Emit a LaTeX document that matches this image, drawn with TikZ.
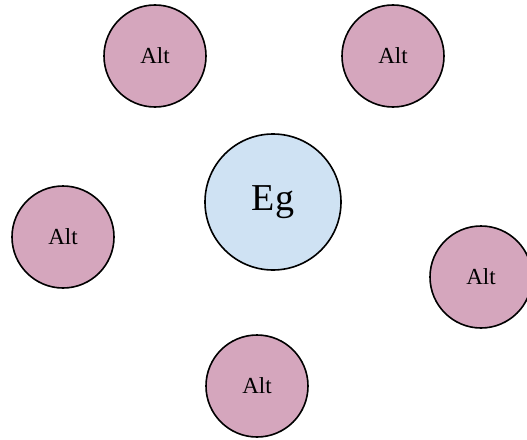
\documentclass[tikz,border=0pt]{standalone}
\usepackage{fontspec}
\setmainfont{Liberation Serif}
\definecolor{altpink}{HTML}{D5A6BD}
\definecolor{egblue}{HTML}{CFE2F3}
\tikzset{
  altnode/.style={circle, draw=black, line width=1.6pt, fill=altpink, minimum size=102pt, inner sep=0pt, font=\fontsize{23}{27}\selectfont},
  egnode/.style={circle, draw=black, line width=1.6pt, fill=egblue, minimum size=136pt, inner sep=0pt, font=\fontsize{38}{44}\selectfont}
}
\begin{document}
\begin{tikzpicture}[x=1pt,y=-1pt]
\useasboundingbox (0,0) rectangle (527,439);
\begin{scope}
\clip (0,0) rectangle (527,439);
\node[altnode] (a1) at (155,56) {Alt};
\node[altnode] (a2) at (393,56) {Alt};
\node[egnode] (eg) at (273,202) {Eg};
\node[altnode] (a3) at (63,237) {Alt};
\node[altnode] (a4) at (481,277) {Alt};
\node[altnode] (a5) at (257,386) {Alt};
\end{scope}
\end{tikzpicture}
\end{document}
